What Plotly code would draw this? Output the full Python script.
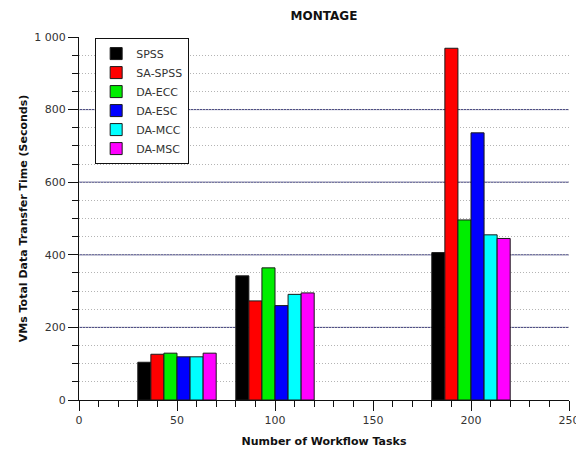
import plotly.graph_objects as go

tasks = [50, 100, 200]
series_names = ["SPSS", "SA-SPSS", "DA-ECC", "DA-ESC", "DA-MCC", "DA-MSC"]
spss = [104, 342, 406]
sa_spss = [126, 273, 969]
da_ecc = [129, 364, 496]
da_esc = [119, 260, 736]
da_mcc = [119, 291, 455]
da_msc = [129, 295, 445]
colors = ["#000000", "#ff0000", "#00ee00", "#0000ff", "#00ffff", "#ff00ff"]

y_tickvals = [0, 200, 400, 600, 800, 1000]
y_ticktext = ["0", "200", "400", "600", "800", "1 000"]
x_tickvals = [0, 50, 100, 150, 200, 250]
x_ticktext = ["0", "50", "100", "150", "200", "250"]

all_series = [spss, sa_spss, da_ecc, da_esc, da_mcc, da_msc]

fig = go.Figure()
for name, vals, col in zip(series_names, all_series, colors):
    fig.add_trace(go.Bar(
        x=tasks, y=vals, name=name,
        marker=dict(color=col, line=dict(color="#1a1a1a", width=1)),
    ))

font_family = "DejaVu Sans, Verdana, sans-serif"

shapes = []
for v in [200, 400, 600, 800]:
    shapes.append(dict(type="line", xref="paper", x0=0, x1=1, yref="y", y0=v, y1=v,
                       line=dict(color="#3c3c7c", width=1), layer="below"))

fig.update_layout(
    width=576, height=443,
    margin=dict(l=71, r=15, t=29, b=51, autoexpand=False),
    paper_bgcolor="white", plot_bgcolor="white",
    barmode="group", bargap=0.2, bargroupgap=0,
    font=dict(family=font_family, size=11, color="#333333"),
    title=dict(text="<b>MONTAGE</b>", x=0.5, xref="paper", xanchor="center",
               y=1 - 7.5 / 443, yanchor="middle",
               font=dict(family=font_family, size=12, color="#111111")),
    shapes=shapes,
    showlegend=True,
    legend=dict(x=0.033, y=0.997, xanchor="left", yanchor="top",
                bgcolor="white", bordercolor="#111111", borderwidth=1,
                font=dict(family=font_family, size=11, color="#333333"),
                tracegroupgap=0),
    xaxis=dict(range=[0, 250], tickmode="array", tickvals=x_tickvals, ticktext=x_ticktext,
               ticks="outside", ticklen=10, tickcolor="#111111", automargin=False,
               showline=True, linecolor="#111111", linewidth=1,
               showgrid=False, zeroline=False,
               minor=dict(dtick=10, tick0=0, ticks="outside", ticklen=6, tickcolor="#111111", showgrid=False),
               title=dict(text="<b>Number of Workflow Tasks</b>", standoff=11,
                          font=dict(family=font_family, size=11, color="#111111"))),
    yaxis=dict(range=[0, 1000], tickmode="array", tickvals=y_tickvals, ticktext=y_ticktext,
               ticks="outside", ticklen=10, tickcolor="#111111", automargin=False,
               showline=True, linecolor="#111111", linewidth=1,
               showgrid=False, zeroline=False,
               minor=dict(dtick=50, tick0=0, ticks="outside", ticklen=6, tickcolor="#111111",
                          showgrid=True, griddash="1px,2px", gridcolor="#b4b4b4", gridwidth=1),
               title=dict(text="<b>VMs Total Data Transfer Time (Seconds)</b>", standoff=4,
                          font=dict(family=font_family, size=11, color="#111111"))),
)

fig.write_html("out.html")
